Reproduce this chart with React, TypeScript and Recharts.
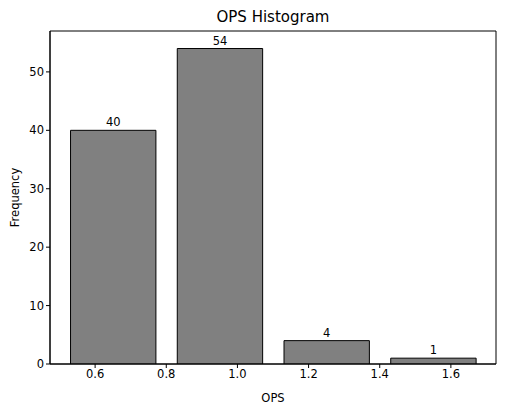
import { ComposedChart, Bar, XAxis, YAxis, LabelList, ReferenceArea } from 'recharts'

// histogram bins (centre of each bin) and counts
const binCenters = [0.65, 0.95, 1.25, 1.55]
const counts = [40, 54, 4, 1]
const xTicks = [0.6, 0.8, 1.0, 1.2, 1.4, 1.6]
const yTicks = [0, 10, 20, 30, 40, 50]

const binWidth = 0.3
const rWidth = 0.8
const xDomain: [number, number] = [0.4732, 1.7268]
const yDomain: [number, number] = [0, 57]

const W = 508
const H = 410
const margin = { top: 31, right: 12, bottom: 6, left: 0 }
const yAxisWidth = 50
const xAxisHeight = 40

const font = 'DejaVu Sans, sans-serif'
const fs = 11.5

export default function App() {
  const data = binCenters.map((x, i) => ({ x, count: counts[i] }))
  const plotWidth = W - margin.left - margin.right - yAxisWidth
  const barSize = (plotWidth * binWidth * rWidth) / (xDomain[1] - xDomain[0])

  return (
    <div style={{ position: 'absolute', left: 0, top: 0, width: W, height: H, background: '#fff', fontFamily: font }}>
      <div
        style={{
          position: 'absolute',
          top: 8,
          left: margin.left + yAxisWidth,
          width: plotWidth,
          textAlign: 'center',
          fontSize: 15,
          color: '#000',
        }}
      >
        OPS Histogram
      </div>
      <ComposedChart width={W} height={H} data={data} margin={margin}>
        <XAxis
          dataKey="x"
          type="number"
          domain={xDomain}
          ticks={xTicks}
          allowDataOverflow
          tickFormatter={(v) => v.toFixed(1)}
          height={xAxisHeight}
          stroke="#000"
          tickSize={4}
          tick={{ fill: '#000', fontSize: fs, fontFamily: font }}
          label={{ value: 'OPS', position: 'insideBottom', offset: 2, fill: '#000', fontSize: fs, fontFamily: font }}
        />
        <YAxis
          type="number"
          domain={yDomain}
          ticks={yTicks}
          allowDataOverflow
          width={yAxisWidth}
          stroke="#000"
          tickSize={4}
          tick={{ fill: '#000', fontSize: fs, fontFamily: font }}
          label={{ value: 'Frequency', angle: -90, position: 'insideLeft', offset: 15, fill: '#000', fontSize: fs, fontFamily: font, style: { textAnchor: 'middle' } }}
        />
        {/* axes frame (top and right spines) */}
        <ReferenceArea
          x1={xDomain[0]}
          x2={xDomain[1]}
          y1={yDomain[0]}
          y2={yDomain[1]}
          fill="none"
          stroke="#000"
          strokeWidth={1}
          ifOverflow="visible"
        />
        <Bar
          dataKey="count"
          fill="#808080"
          stroke="#000"
          strokeWidth={1}
          barSize={barSize}
          isAnimationActive={false}
        >
          <LabelList dataKey="count" position="top" offset={4} fill="#000" fontSize={fs} fontFamily={font} />
        </Bar>
      </ComposedChart>
    </div>
  )
}
